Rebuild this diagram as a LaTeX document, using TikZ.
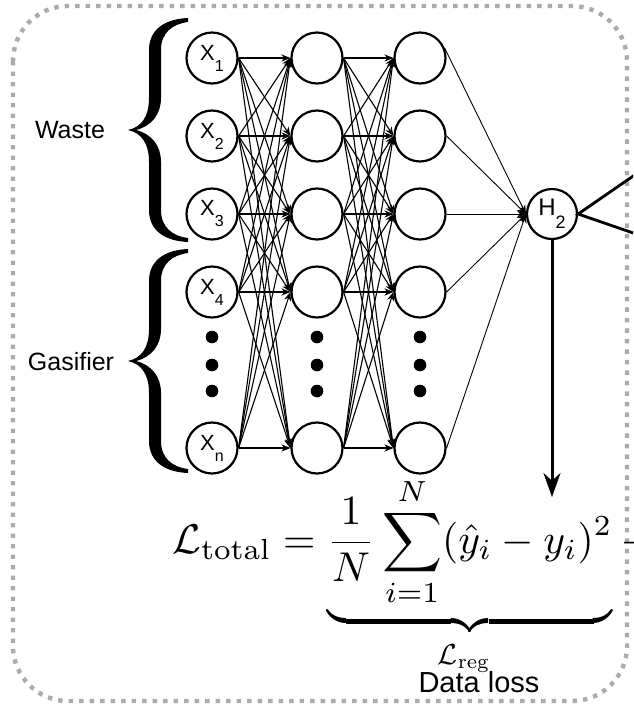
\documentclass[tikz,border=0pt]{standalone}
\usepackage{amsmath,amssymb}
\usepackage{graphicx}
\usepackage{fontspec}
\usepackage{tikz}
\usetikzlibrary{arrows.meta,positioning}
\newfontfamily\labelfont{Liberation Sans}
\newcommand{\insub}[1]{X\raisebox{-5.5pt}{\fontsize{8}{9}\selectfont #1}}
\newcommand{\outsub}[1]{H\raisebox{-6.5pt}{\fontsize{9}{10}\selectfont #1}}

\begin{document}
\begin{tikzpicture}[
  x=0.5pt,y=-0.5pt,
  neuron/.style={circle,draw,line width=1.1pt,minimum size=25.5pt,inner sep=0pt,
                 font=\labelfont\fontsize{11}{12}\selectfont},
  dot/.style={circle,fill,minimum size=6.3pt,inner sep=0pt},
  link/.style={-{Stealth[length=4.5pt,width=3.6pt]},line width=0.55pt},
  lbl/.style={font=\labelfont\fontsize{12.5}{15}\selectfont},
  border/.style={draw=black!33,line width=2.2pt,dash pattern=on 2.2pt off 3.05pt,
                 rounded corners=27.5pt},
  outarr/.style={-{Stealth[length=12pt,width=8.5pt]},line width=1.5pt},
  curlybrace/.pic={
    \fill (0,0) .. controls (14,-3) and (21,-14) .. (21,-32) -- (21,-80)
      .. controls (21,-100) and (36,-111) .. (60,-112) -- (60,-108)
      .. controls (44,-106) and (33,-97) .. (33,-80) -- (33,-32)
      .. controls (33,-16) and (24,-4) .. (8,0)
      .. controls (24,4) and (33,16) .. (33,32) -- (33,80)
      .. controls (33,97) and (44,106) .. (60,108) -- (60,112)
      .. controls (36,111) and (21,100) .. (21,80) -- (21,32)
      .. controls (21,14) and (14,3) .. (0,0) -- cycle;
  },
]
\useasboundingbox (0,0) rectangle (633,708);
\clip (0,0) rectangle (633,708);
% ----- frame
\draw[border] (13,6) rectangle (627,701);
% ----- layers
\foreach \k/\y/\s in {1/58/1,2/136/2,3/214/3,4/292/4,5/448/n}{
  \node[neuron] (i\k) at (212,\y) {\insub{\s}};
  \node[neuron] (a\k) at (317,\y) {};
  \node[neuron] (b\k) at (420,\y) {};
}
\foreach \c in {212,317,420}
  \foreach \y in {337,365,391}
    \node[dot] (dot-\c-\y) at (\c,\y) {};
\node[neuron,minimum size=25pt,font=\labelfont\fontsize{12}{13}\selectfont] (h2) at (552,214) {\outsub{2}};
% ----- dense links
\foreach \i in {1,...,5}
  \foreach \j in {1,...,5}{
    \draw[link] (i\i.east) -- (a\j.west);
    \draw[link] (a\i.east) -- (b\j.west);
  }
\draw[link,line width=0.45pt] (b1.22) -- (h2.west);
\foreach \i in {2,...,5}
  \draw[link,line width=0.45pt] (b\i.east) -- (h2.west);
% ----- output side
\coordinate (fanup) at (700,130);
\coordinate (fandown) at (700,256);
\draw[line width=1.4pt] (fanup) -- (h2.east) -- (fandown);
\coordinate (lossin) at (552,497);
\draw[outarr] (h2.south) -- (lossin);
% ----- braces and groups
\pic (wastebrace) at (128,130) {curlybrace};
\pic (gasbrace) at (128,361) {curlybrace};
\node[lbl] (waste) at (70,130) {Waste};
\node[lbl] (gasifier) at (71,362) {Gasifier};
% ----- loss
\node[anchor=base west,inner sep=0pt] (loss) at (172,553)
  {\scalebox{2.08}{$\displaystyle \mathcal{L}_{\text{total}} =
   {\underbrace{\frac{1}{N}\sum_{i=1}^{N}(\hat{y}_i-y_i)^2}} + {}$}};
\node[anchor=base,inner sep=0pt] (lreg) at (464,664) {\scalebox{1.45}{$\mathcal{L}_{\mathrm{reg}}$}};
\node[lbl,anchor=base,inner sep=0pt,font=\labelfont\fontsize{14.5}{16}\selectfont] (dataloss) at (479,692) {Data loss};
\end{tikzpicture}
\end{document}
